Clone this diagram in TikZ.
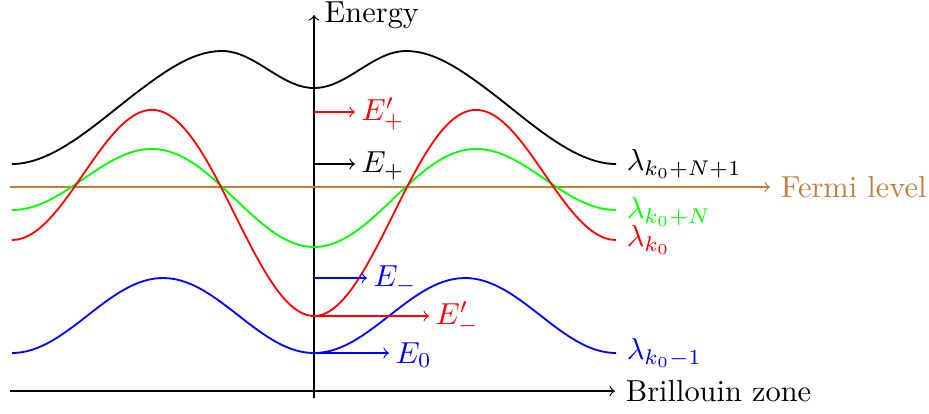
\documentclass[tikz,border=0pt]{standalone}
\usepackage{amsmath}
\usetikzlibrary{positioning}

\begin{document}
\begin{tikzpicture}[
    x={(0.329pt,0pt)}, y={(0pt,-0.329pt)},
    band/.style={semithick},
    level/.style={->},
    lbl/.style={right}
]
\useasboundingbox (0,0) rectangle (929,413);

% axes
\coordinate (ebot) at (314,398);
\coordinate (etop) at (314,15);
\coordinate (bleft) at (10,391);
\coordinate (bright) at (615,391);
\node[lbl] (energy) at (etop) {Energy};
\node[lbl] (zone) at (bright) {Brillouin zone};
\draw[->] (ebot) -- (etop);
\draw[->] (bleft) -- (bright);

% Fermi level
\coordinate (fleft) at (10,187);
\coordinate (fright) at (770,187);
\node[lbl,brown] (fermi) at (fright) {Fermi level};
\draw[->,brown] (fleft) -- (fright);

% bands
\draw[band] (12,164) .. controls (55,164) and (100,120) .. (140,90)
    .. controls (170,67.5) and (195,51) .. (222,51)
    .. controls (255,51) and (281,88) .. (314,88)
    .. controls (347,88) and (373,51) .. (406,51)
    .. controls (433,51) and (458,67.5) .. (488,90)
    .. controls (528,120) and (573,164) .. (616,164);
\draw[band,green] plot[domain=-180:180,samples=120] ({314+1.6778*\x},{189.25+18.5*cos(\x)+39.25*cos(2*\x)});
\draw[band,red] plot[domain=-180:180,samples=120] ({314+1.6778*\x},{195+38*cos(\x)+83*cos(2*\x)});
\draw[band,blue] plot[domain=-180:180,samples=120] ({314+1.6778*\x},{315.5+37.5*cos(2*\x)});

% band names
\node[lbl] (lamNN) at (616,164) {$\lambda_{k_0+N+1}$};
\node[lbl,green] (lamN) at (616,212) {$\lambda_{k_0+N}$};
\node[lbl,red] (lamk) at (616,240) {$\lambda_{k_0}$};
\node[lbl,blue] (lamm) at (616,353) {$\lambda_{k_0-1}$};

% energies at the zone centre
\coordinate (eppo) at (314,112);
\coordinate (epo) at (314,164);
\coordinate (emo) at (314,278);
\coordinate (empo) at (314,316);
\coordinate (ezo) at (314,353);
\node[lbl,red,inner sep=2pt] (Epp) at (355,114) {$E'_+$};
\node[lbl,inner sep=2pt] (Ep) at (355,166) {$E_+$};
\node[lbl,blue,inner sep=2pt] (Em) at (367,280) {$E_-$};
\node[lbl,red,inner sep=2pt] (Emp) at (429,318) {$E'_-$};
\node[lbl,blue,inner sep=2pt] (Ez) at (389,355) {$E_0$};
\draw[level,red] (eppo) -- (eppo -| Epp.west);
\draw[level] (epo) -- (epo -| Ep.west);
\draw[level,blue] (emo) -- (emo -| Em.west);
\draw[level,red] (empo) -- (empo -| Emp.west);
\draw[level,blue] (ezo) -- (ezo -| Ez.west);

\end{tikzpicture}
\end{document}
